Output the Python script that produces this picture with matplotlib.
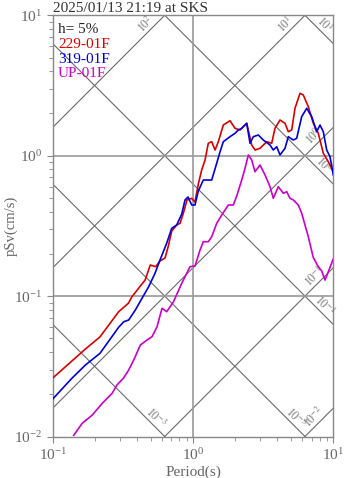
import numpy as np
import matplotlib
matplotlib.use('Agg')
import matplotlib.pyplot as plt

plt.rcParams['font.family'] = ['Liberation Serif', 'DejaVu Serif']
plt.rcParams['mathtext.fontset'] = 'stix'

# pSv spectra (period s, cm/s)
red_T = [0.100, 0.171, 0.217, 0.295, 0.346, 0.367, 0.455, 0.496, 0.542, 0.582, 0.632,
         0.667, 0.705, 0.765, 0.808, 0.853, 0.906, 0.979, 1.033, 1.091, 1.153, 1.218,
         1.285, 1.359, 1.435, 1.515, 1.644, 1.835, 1.992, 2.163, 2.283, 2.414, 2.620,
         2.767, 3.003, 3.353, 3.638, 3.840, 4.170, 4.526, 4.778, 5.052, 5.333, 5.790,
         6.112, 6.634, 7.203, 7.818, 8.487, 9.213, 10.0]
red_v = [0.0261, 0.0420, 0.0512, 0.0774, 0.0889, 0.0990, 0.130, 0.1665, 0.162, 0.178, 0.187,
         0.2275, 0.291, 0.321, 0.330, 0.389, 0.484, 0.497, 0.468, 0.629, 0.791, 0.932,
         1.226, 1.258, 1.098, 1.258, 1.654, 1.776, 1.568, 1.524, 1.609, 1.701, 1.192,
         1.098, 1.129, 1.258, 1.226, 1.568, 1.796, 1.701, 1.482, 1.524, 2.176, 2.782,
         2.706, 2.234, 1.701, 1.444, 1.040, 0.906, 0.765]

blue_T = [0.100, 0.137, 0.171, 0.217, 0.295, 0.321, 0.348, 0.388, 0.433, 0.483, 0.536,
          0.582, 0.649, 0.705, 0.765, 0.831, 0.877, 0.921, 0.979, 1.033, 1.091, 1.184,
          1.359, 1.475, 1.557, 1.644, 1.835, 1.992, 2.104, 2.224, 2.414, 2.549, 2.691,
          2.921, 3.170, 3.539, 3.736, 3.951, 4.170, 4.526, 4.778, 5.186, 5.484, 5.952,
          6.463, 7.015, 7.615, 8.039, 8.487, 8.974, 9.474, 10.0]
blue_v = [0.0185, 0.0260, 0.0323, 0.0391, 0.0600, 0.0657, 0.0676, 0.0796, 0.0965, 0.1167, 0.1454,
          0.181, 0.238, 0.304, 0.321, 0.384, 0.484, 0.508, 0.4455, 0.4455, 0.5605, 0.671,
          0.671, 0.883, 1.063, 1.258, 1.366, 1.444, 1.524, 1.568, 1.701, 1.226, 1.366,
          1.404, 1.293, 1.192, 1.098, 1.159, 1.012, 1.129, 1.366, 1.293, 1.330, 1.896,
          2.176, 1.896, 1.482, 1.654, 1.482, 1.098, 0.984, 0.729]

mag_T = [0.141, 0.162, 0.191, 0.225, 0.265, 0.287, 0.319, 0.348, 0.378, 0.421, 0.470,
         0.510, 0.554, 0.601, 0.649, 0.724, 0.831, 0.902, 0.952, 1.033, 1.122, 1.184,
         1.285, 1.359, 1.475, 1.602, 1.785, 1.938, 2.049, 2.224, 2.348, 2.479, 2.620,
         2.767, 3.003, 3.261, 3.539, 3.736, 4.055, 4.400, 4.653, 4.914, 5.186, 5.630,
         5.952, 6.634, 7.203, 7.818, 8.264, 8.728, 9.213, 10.0]
mag_v = [0.0102, 0.0124, 0.0142, 0.0172, 0.0203, 0.0233, 0.0260, 0.0298, 0.0351, 0.0448, 0.0487,
         0.0514, 0.0605, 0.0819, 0.0774, 0.0908, 0.1234, 0.1454, 0.162, 0.1638, 0.213, 0.244,
         0.244, 0.265, 0.330, 0.378, 0.4455, 0.4455, 0.516, 0.671, 0.813, 1.012, 0.932,
         0.769, 0.859, 0.729, 0.601, 0.497, 0.601, 0.540, 0.554, 0.497, 0.484, 0.4455,
         0.389, 0.265, 0.188, 0.162, 0.151, 0.130, 0.149, 0.184]

names = ['229-01F', '319-01F', 'UP-01F']
colors = ['#dd0000', '#0000dd', '#cc00cc']

# tripartite guide lines
disp_vals = [1e1, 1e0, 1e-1, 1e-2, 1e-3]          # cm
disp_labels = ['$10^{1}$', '$10^{0}$', '$10^{-1}$', '$10^{-3}$', '$10^{-3}$']
acc_vals = [1e2, 1e1, 1e0, 1e-1, 1e-2]            # cm/s2
acc_labels = ['$10^{2}$', '$10^{1}$', '$10^{0}$', '$10^{-1}$', '$10^{-2}$']

tmin, tmax, vmin, vmax = 0.1, 10.0, 0.01, 10.0


def main():
    fig = plt.figure(figsize=(3.47, 4.78), dpi=100)
    ax = fig.add_axes([0.152, 0.0868, 0.8085, 0.8812])
    ax.set_xscale('log')
    ax.set_yscale('log')
    ax.set_xlim(tmin, tmax)
    ax.set_ylim(vmin, vmax)

    tt = np.array([1e-3, 1e3])
    gc = '#6a6a6a'
    for d, lab in zip(disp_vals, disp_labels):
        ax.plot(tt, 2 * np.pi * d / tt, color=gc, lw=0.8, zorder=1)
        te = min(tmax, 2 * np.pi * d / vmin)
        ve = 2 * np.pi * d / te
        lx = np.log10(te) - 0.1 + 0.035
        ly = np.log10(ve) + 0.1 + 0.035
        ax.text(10 ** lx, 10 ** ly, lab, rotation=-45, rotation_mode='anchor',
                ha='center', va='center', fontsize=8.5, color='#777777')
    for a, lab in zip(acc_vals, acc_labels):
        ax.plot(tt, a * tt / (2 * np.pi), color=gc, lw=0.8, zorder=1)
        te = min(tmax, 2 * np.pi * vmax / a)
        ve = a * te / (2 * np.pi)
        lx = np.log10(te) - 0.1 - 0.035
        ly = np.log10(ve) - 0.1 + 0.035
        ax.text(10 ** lx, 10 ** ly, lab, rotation=45, rotation_mode='anchor',
                ha='center', va='center', fontsize=8.5, color='#777777')

    # grid
    ax.axvline(1.0, color='#999999', lw=1.2, zorder=1)
    for yv in [1.0, 0.1]:
        ax.axhline(yv, color='#999999', lw=1.2, zorder=1)

    for T, v, c in zip([red_T, blue_T, mag_T], [red_v, blue_v, mag_v], colors):
        ax.plot(T, v, color=c, lw=1.2, zorder=3)

    # tune
    for s in ax.spines.values():
        s.set_color('#888888')
        s.set_linewidth(1.0)
    ax.tick_params(which='both', direction='out', colors='#888888', labelcolor='#666666',
                   labelsize=11)
    ax.tick_params(which='major', length=4)
    ax.tick_params(which='minor', length=3)
    ax.set_xlabel('Period(s)', fontsize=11, color='#666666', labelpad=2)
    ax.set_ylabel('pSv(cm/s)', fontsize=10.5, color='#666666')
    ax.yaxis.set_label_coords(-0.125, 0.5)

    fig.text(53 / 347, 1 - 11.5 / 478, '2025/01/13 21:19 at SKS', fontsize=11,
             color='#333333', va='baseline')
    fig.text(58 / 347, 1 - 33 / 478, 'h= 5%', fontsize=11, color='#222222', va='baseline')
    for i, (n, c) in enumerate(zip(names, colors)):
        fig.text(58 / 347, 1 - (48 + 14.7 * i) / 478, n, fontsize=11, color=c, va='baseline')

    plt.savefig('out.png', dpi=100)


if __name__ == '__main__':
    main()
